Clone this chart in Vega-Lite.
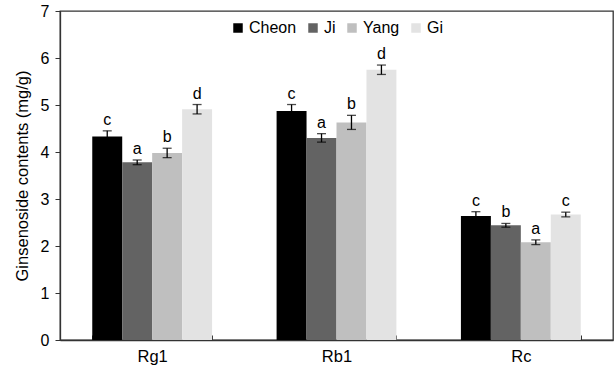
{
  "$schema": "https://vega.github.io/schema/vega-lite/v6.json",
  "width": 553,
  "height": 329,
  "autosize": {"type": "none"},
  "padding": {"left": 60, "top": 11, "right": 2, "bottom": 31},
  "background": "white",
  "config": {
    "font": "Liberation Sans",
    "view": {"stroke": "#333333", "strokeWidth": 1.3},
    "axis": {"domainColor": "#333333", "tickColor": "#333333", "labelColor": "#000000", "titleColor": "#000000", "labelFont": "Liberation Sans", "titleFont": "Liberation Sans", "grid": false},
    "axisY": {"titleFontSize": 16.5, "titleFontWeight": "normal", "titlePadding": 10, "labelFontSize": 16, "labelOverlap": false, "tickSize": 5, "labelPadding": 6, "domainWidth": 1.3}
  },
  "data": {"values": [
    {"group": "Rg1", "cultivar": "Cheon", "value": 4.33, "lo": 4.21, "hi": 4.45, "letter": "c"},
    {"group": "Rg1", "cultivar": "Ji", "value": 3.78, "lo": 3.73, "hi": 3.83, "letter": "a"},
    {"group": "Rg1", "cultivar": "Yang", "value": 3.98, "lo": 3.88, "hi": 4.08, "letter": "b"},
    {"group": "Rg1", "cultivar": "Gi", "value": 4.91, "lo": 4.81, "hi": 5.01, "letter": "d"},
    {"group": "Rb1", "cultivar": "Cheon", "value": 4.87, "lo": 4.73, "hi": 5.01, "letter": "c"},
    {"group": "Rb1", "cultivar": "Ji", "value": 4.3, "lo": 4.21, "hi": 4.39, "letter": "a"},
    {"group": "Rb1", "cultivar": "Yang", "value": 4.63, "lo": 4.48, "hi": 4.78, "letter": "b"},
    {"group": "Rb1", "cultivar": "Gi", "value": 5.75, "lo": 5.65, "hi": 5.85, "letter": "d"},
    {"group": "Rc", "cultivar": "Cheon", "value": 2.64, "lo": 2.56, "hi": 2.73, "letter": "c"},
    {"group": "Rc", "cultivar": "Ji", "value": 2.44, "lo": 2.4, "hi": 2.48, "letter": "b"},
    {"group": "Rc", "cultivar": "Yang", "value": 2.08, "lo": 2.03, "hi": 2.13, "letter": "a"},
    {"group": "Rc", "cultivar": "Gi", "value": 2.67, "lo": 2.62, "hi": 2.72, "letter": "c"}
  ]},
  "encoding": {
    "x": {"field": "group", "type": "nominal", "sort": ["Rg1", "Rb1", "Rc"],
      "scale": {"paddingInner": 0.35, "paddingOuter": 0.175},
      "axis": {"title": null, "labelAngle": 0, "labelFontSize": 16.5, "labelPadding": 13, "tickBand": "extent", "tickSize": -5, "domainWidth": 1.3}},
    "xOffset": {"field": "cultivar", "type": "nominal", "sort": ["Cheon", "Ji", "Yang", "Gi"], "scale": {"paddingInner": 0, "paddingOuter": 0}}
  },
  "layer": [
    {
      "mark": {"type": "bar"},
      "encoding": {
        "y": {"field": "value", "type": "quantitative", "scale": {"domain": [0, 7]},
          "axis": {"title": "Ginsenoside contents (mg/g)", "values": [0,1,2,3,4,5,6,7]}},
        "color": {"field": "cultivar", "type": "nominal", "sort": ["Cheon", "Ji", "Yang", "Gi"],
          "scale": {"domain": ["Cheon", "Ji", "Yang", "Gi"], "range": ["#000000", "#636363", "#bfbfbf", "#e3e3e3"]},
          "legend": {"title": null, "orient": "none", "legendX": 170, "legendY": 9, "direction": "horizontal", "symbolType": "square", "symbolSize": 90, "symbolStrokeWidth": 0, "labelFontSize": 16, "labelOffset": 3, "columnPadding": 8, "labelColor": "#000000"}}
      }
    },
    {
      "mark": {"type": "rule", "color": "#000000", "strokeWidth": 1.3},
      "encoding": {
        "y": {"field": "lo", "type": "quantitative", "axis": {"title": "Ginsenoside contents (mg/g)", "values": [0,1,2,3,4,5,6,7]}},
        "y2": {"field": "hi"}
      }
    },
    {
      "mark": {"type": "tick", "color": "#000000", "thickness": 1.3, "size": 9, "orient": "horizontal"},
      "encoding": {"y": {"field": "lo", "type": "quantitative", "axis": {"title": "Ginsenoside contents (mg/g)", "values": [0,1,2,3,4,5,6,7]}}}
    },
    {
      "mark": {"type": "tick", "color": "#000000", "thickness": 1.3, "size": 9, "orient": "horizontal"},
      "encoding": {"y": {"field": "hi", "type": "quantitative", "axis": {"title": "Ginsenoside contents (mg/g)", "values": [0,1,2,3,4,5,6,7]}}}
    },
    {
      "mark": {"type": "text", "baseline": "bottom", "dy": -3, "fontSize": 16, "color": "#000000"},
      "encoding": {
        "y": {"field": "hi", "type": "quantitative", "axis": {"title": "Ginsenoside contents (mg/g)", "values": [0,1,2,3,4,5,6,7]}},
        "text": {"field": "letter"}
      }
    }
  ]
}
